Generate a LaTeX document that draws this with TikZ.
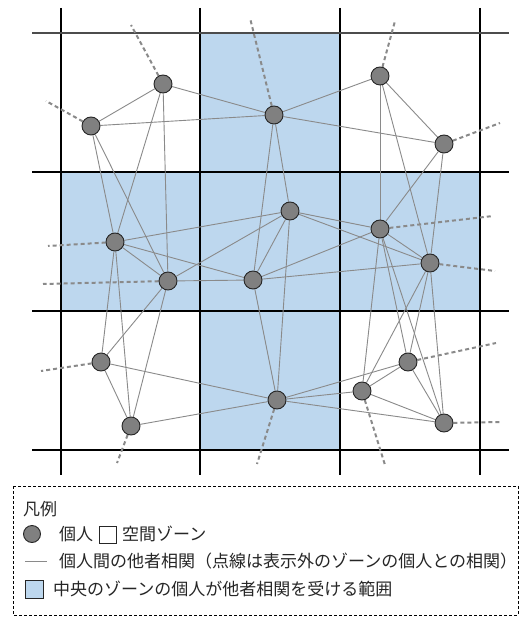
\documentclass[tikz,border=0pt]{standalone}
\usepackage{fontspec}
\setmainfont{Noto Sans CJK JP}
\definecolor{zoneblue}{HTML}{BDD7EE}
\definecolor{nodegray}{HTML}{808080}
\definecolor{edgegray}{HTML}{8A8A8A}
\pgfdeclarelayer{bg}
\pgfdeclarelayer{edges}
\pgfsetlayers{bg,edges,main}
\begin{document}
\begin{tikzpicture}[x=1pt,y=-1pt,
  person/.style={circle,fill=nodegray,draw=black!85,line width=0.9pt,minimum size=18pt,inner sep=0pt},
  link/.style={draw=edgegray,line width=0.9pt},
  stub/.style={draw=edgegray,line width=2pt,dash pattern=on 4pt off 3pt},
  gridline/.style={draw=black,line width=1.2pt},
  txt/.style={anchor=west,inner sep=0pt,font=\fontsize{17}{20}\selectfont,text=black!85}]
\useasboundingbox (0,0) rectangle (523,617);
\begin{pgfonlayer}{bg}
\fill[white] (0,0) rectangle (523,617);
\fill[zoneblue] (200,33) rectangle (340,172);
\fill[zoneblue] (61,172) rectangle (480,311);
\fill[zoneblue] (200,311) rectangle (340,450);
\foreach \x in {61,200,340,480} \draw[gridline] (\x,8) -- (\x,475);
\foreach \y in {172,311,450} \draw[gridline] (32,\y) -- (509,\y);
\draw[gridline,draw=black!70,line width=1.5pt] (32,33) -- (509,33);
\end{pgfonlayer}
% persons
\node[person] (n1) at (163,84) {};
\node[person] (n2) at (91,126) {};
\node[person] (n3) at (274,115) {};
\node[person] (n4) at (380,76) {};
\node[person] (n5) at (444,144) {};
\node[person] (n6) at (115,242) {};
\node[person] (n7) at (168,281) {};
\node[person] (n8) at (290,211) {};
\node[person] (n9) at (253,280) {};
\node[person] (n10) at (380,229) {};
\node[person] (n11) at (430,263) {};
\node[person] (n12) at (101,362) {};
\node[person] (n13) at (131,426) {};
\node[person] (n14) at (277,400) {};
\node[person] (n15) at (408,362) {};
\node[person] (n16) at (362,391) {};
\node[person] (n17) at (444,423) {};
% stub ends
\coordinate (d1) at (131,25);
\coordinate (d2) at (46,101);
\coordinate (d3) at (250,18);
\coordinate (d4) at (395,21);
\coordinate (d5) at (500,123);
\coordinate (d6) at (48,246);
\coordinate (d7) at (43,284);
\coordinate (d10) at (493,216);
\coordinate (d11) at (495,271);
\coordinate (d12) at (41,371);
\coordinate (d13) at (117,463);
\coordinate (d14) at (257,464);
\coordinate (d15) at (496,343);
\coordinate (d16) at (385,465);
\coordinate (d17) at (500,422);
\begin{pgfonlayer}{edges}
\foreach \a/\b in {n1/n2,n1/n3,n1/n6,n1/n7,n2/n3,n2/n6,n2/n7,
  n3/n4,n3/n5,n3/n8,n3/n9,n4/n5,n4/n10,n4/n11,n5/n10,n5/n11,
  n6/n7,n6/n8,n6/n9,n6/n12,n6/n13,n7/n8,n7/n9,n7/n12,n7/n13,
  n8/n9,n8/n10,n8/n11,n8/n14,n9/n10,n9/n11,n9/n14,
  n10/n11,n10/n15,n10/n16,n10/n17,n11/n15,n11/n16,n11/n17,
  n12/n13,n12/n14,n13/n14,n14/n15,n14/n16,n14/n17,
  n15/n16,n15/n17,n16/n17}
  \draw[link] (\a) -- (\b);
\foreach \a/\b in {n1/d1,n2/d2,n3/d3,n4/d4,n5/d5,n6/d6,n7/d7,n10/d10,
  n11/d11,n12/d12,n13/d13,n14/d14,n15/d15,n16/d16,n17/d17}
  \draw[stub] (\a) -- (\b);
\end{pgfonlayer}
% legend
\draw[black,line width=1pt,dash pattern=on 3pt off 2pt] (13,486) rectangle (518,615);
\node[txt] (lgtitle) at (23,509) {凡例};
\node[person,minimum size=17pt] (lgperson) at (32,534) {};
\node[txt] (lgpersontext) at (59,534) {個人};
\node[draw=black!85,line width=0.9pt,fill=white,minimum size=17pt,inner sep=0pt] (lgzone) at (107.5,535) {};
\node[txt] (lgzonetext) at (122,534) {空間ゾーン};
\coordinate (la) at (25,561);
\coordinate (lb) at (47,561);
\draw[link] (la) -- (lb);
\node[txt] (lglinktext) at (59,561) {個人間の他者相関（点線は表示外のゾーンの個人との相関）};
\node[draw=black!85,line width=0.9pt,fill=zoneblue,minimum size=18pt,inner sep=0pt] (lgblue) at (34,589) {};
\node[txt] (lgbluetext) at (53,589) {中央のゾーンの個人が他者相関を受ける範囲};
\end{tikzpicture}
\end{document}
